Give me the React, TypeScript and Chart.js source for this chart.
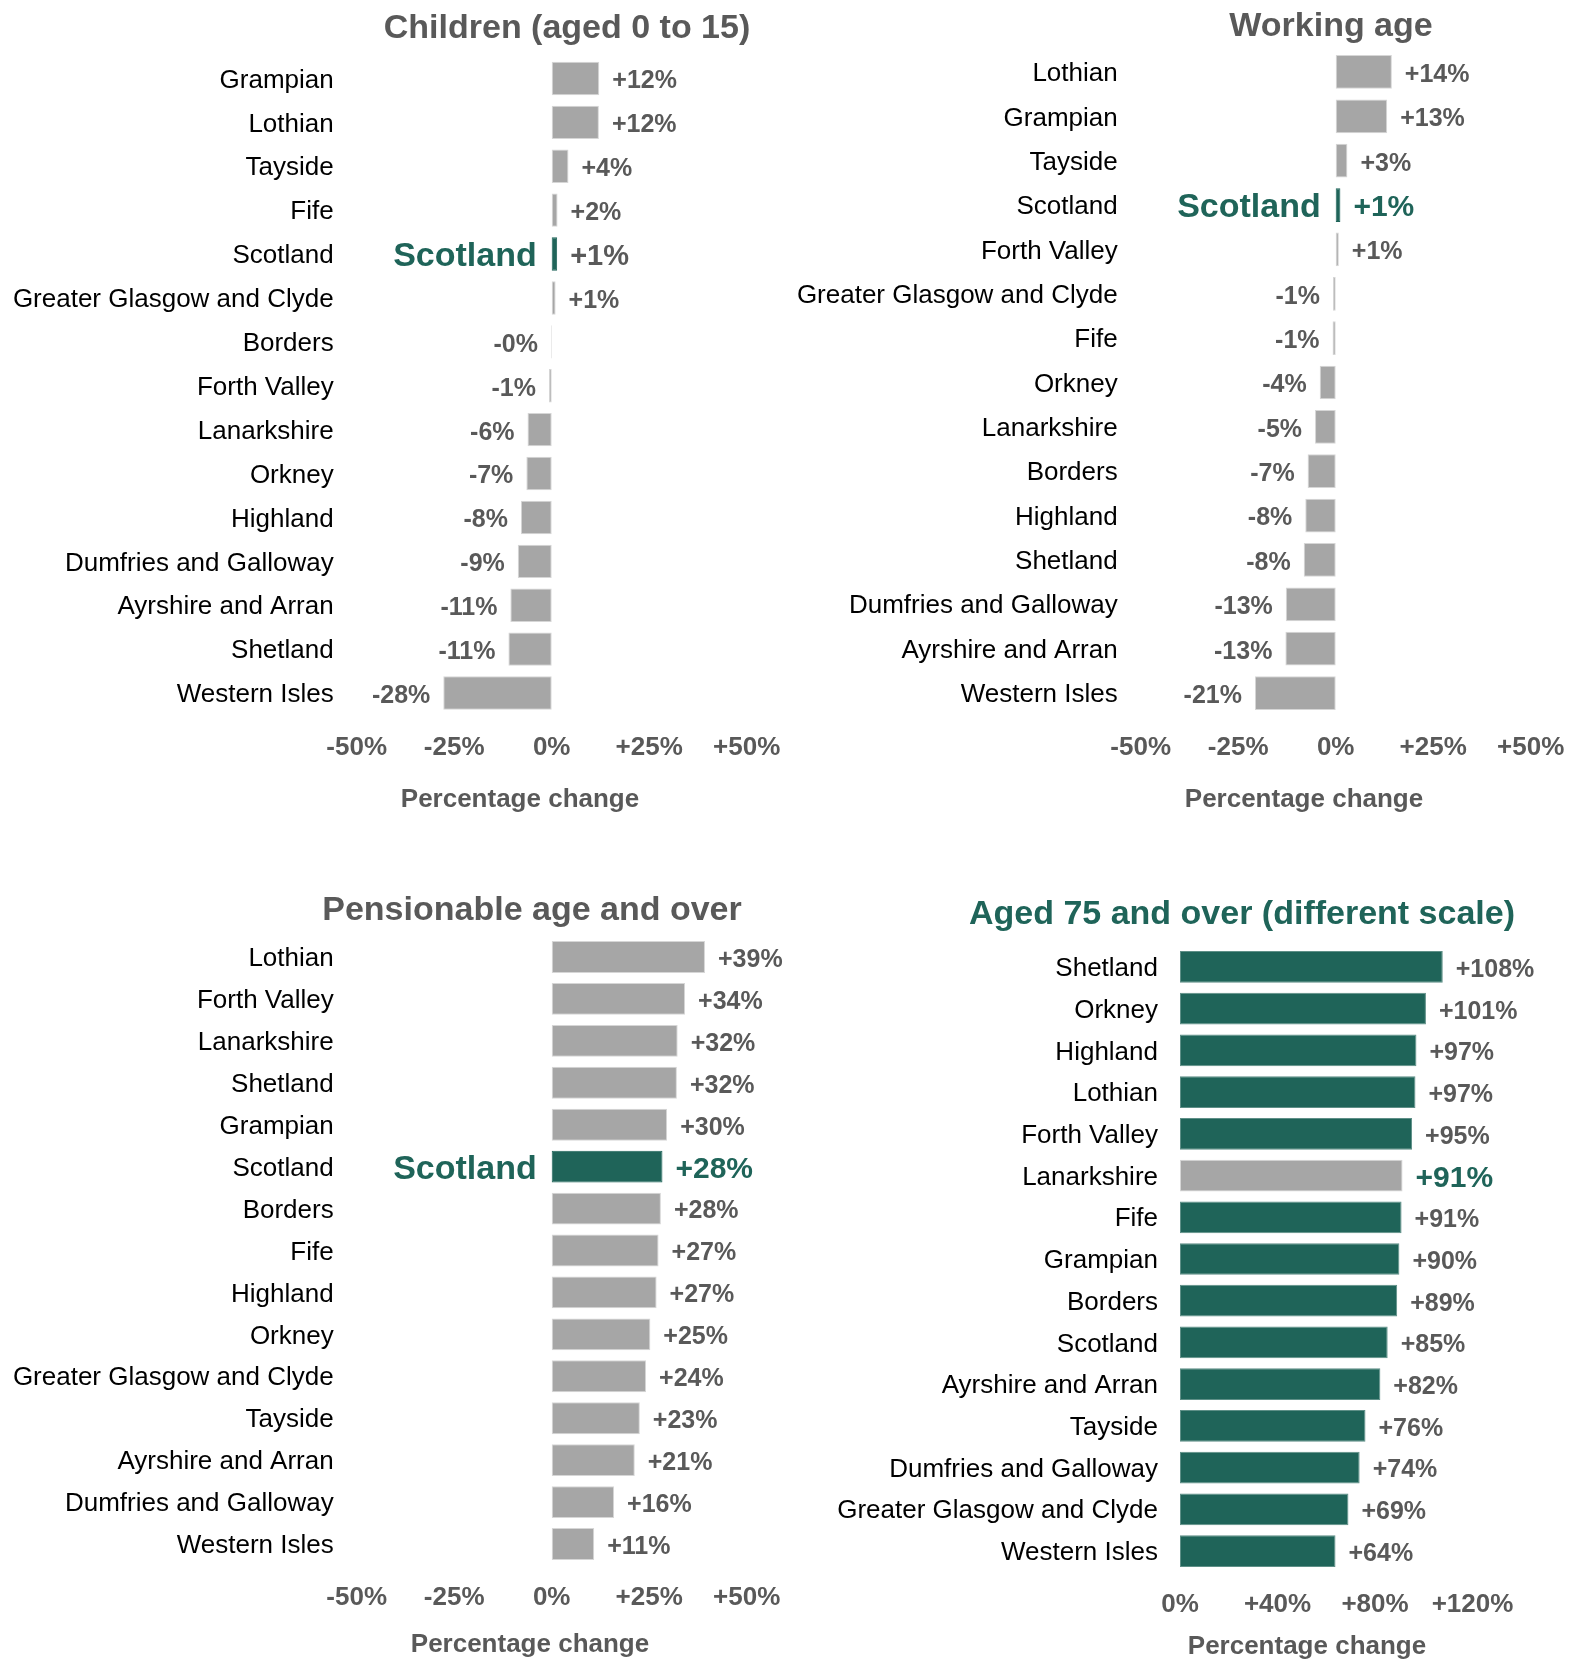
import React, { useEffect, useRef } from 'react';
import { Chart, registerables } from 'chart.js';

Chart.register(...registerables);

const FONT = '"Liberation Sans", Arial, Helvetica, sans-serif';
const GREY_BAR = '#A6A6A6';
const GREY_EDGE = '#D6D6D6';
const GREEN = '#1F6459';
const GREEN_EDGE = '#5E8F87';
const TEXT_GREY = '#595959';

// ---------- data ----------
const childrenAreas = [
  'Grampian', 'Lothian', 'Tayside', 'Fife', 'Scotland', 'Greater Glasgow and Clyde', 'Borders',
  'Forth Valley', 'Lanarkshire', 'Orkney', 'Highland', 'Dumfries and Galloway', 'Ayrshire and Arran',
  'Shetland', 'Western Isles',
];
const childrenValues = [12.2, 12.1, 4.3, 1.5, 1.4, 1.0, -0.2, -0.7, -6.2, -6.5, -7.9, -8.7, -10.6, -11.1, -27.8];

const workingAreas = [
  'Lothian', 'Grampian', 'Tayside', 'Scotland', 'Forth Valley', 'Greater Glasgow and Clyde', 'Fife',
  'Orkney', 'Lanarkshire', 'Borders', 'Highland', 'Shetland', 'Dumfries and Galloway',
  'Ayrshire and Arran', 'Western Isles',
];
const workingValues = [14.4, 13.2, 3.0, 1.2, 0.8, -0.7, -0.8, -4.1, -5.3, -7.2, -7.8, -8.2, -12.8, -12.9, -20.7];

const pensionAreas = [
  'Lothian', 'Forth Valley', 'Lanarkshire', 'Shetland', 'Grampian', 'Scotland', 'Borders', 'Fife',
  'Highland', 'Orkney', 'Greater Glasgow and Clyde', 'Tayside', 'Ayrshire and Arran',
  'Dumfries and Galloway', 'Western Isles',
];
const pensionValues = [39.3, 34.2, 32.3, 32.1, 29.6, 28.4, 28.0, 27.4, 26.9, 25.3, 24.2, 22.6, 21.3, 16.0, 10.9];

const over75Areas = [
  'Shetland', 'Orkney', 'Highland', 'Lothian', 'Forth Valley', 'Lanarkshire', 'Fife', 'Grampian',
  'Borders', 'Scotland', 'Ayrshire and Arran', 'Tayside', 'Dumfries and Galloway',
  'Greater Glasgow and Clyde', 'Western Isles',
];
const over75Values = [107.8, 100.9, 97.0, 96.6, 95.2, 91.3, 90.9, 90.0, 89.1, 85.2, 82.2, 76.1, 73.7, 69.1, 63.8];

const pctTickValues = [-50, -25, 0, 25, 50];
const pctTickLabels = ['-50%', '-25%', '0%', '+25%', '+50%'];
const over75TickValues = [0, 40, 80, 120];
const over75TickLabels = ['0%', '+40%', '+80%', '+120%'];

const panelTitles = ['Children (aged 0 to 15)', 'Working age', 'Pensionable age and over', 'Aged 75 and over (different scale)'];
const axisTitle = 'Percentage change';

// ---------- layout ----------
type Panel = {
  title: string;
  titleColor: string;
  areas: string[];
  values: number[];
  tickValues: number[];
  tickLabels: string[];
  box: { x: number; y: number; w: number; h: number };
  area: { l: number; r: number; t: number; b: number };
  titlePos: { x: number; y: number };
  axisTitlePos: { x: number; y: number };
  yPad: number;
  baseColor: string;
  baseEdge: string;
  hiIndex: number;
  hiColor: string;
  hiEdge: string;
  hiLabelColor: string;
  hiLabelSize: number;
  annotate: boolean;
};

const panels: Panel[] = [
  {
    title: panelTitles[0], titleColor: TEXT_GREY, areas: childrenAreas, values: childrenValues,
    tickValues: pctTickValues, tickLabels: pctTickLabels,
    box: { x: 0, y: 0, w: 784, h: 830 },
    area: { l: 356.7, r: 746.7, t: 56.5, b: 715 },
    titlePos: { x: 567, y: 29 }, axisTitlePos: { x: 520, y: 800 }, yPad: 23,
    baseColor: GREY_BAR, baseEdge: GREY_EDGE, hiIndex: 4, hiColor: GREEN, hiEdge: GREEN,
    hiLabelColor: TEXT_GREY, hiLabelSize: 29, annotate: true,
  },
  {
    title: panelTitles[1], titleColor: TEXT_GREY, areas: workingAreas, values: workingValues,
    tickValues: pctTickValues, tickLabels: pctTickLabels,
    box: { x: 784, y: 0, w: 785, h: 830 },
    area: { l: 1140.7, r: 1530.7, t: 49.8, b: 715.2 },
    titlePos: { x: 1331, y: 27 }, axisTitlePos: { x: 1304, y: 800 }, yPad: 23,
    baseColor: GREY_BAR, baseEdge: GREY_EDGE, hiIndex: 3, hiColor: GREEN, hiEdge: GREEN,
    hiLabelColor: GREEN, hiLabelSize: 30, annotate: true,
  },
  {
    title: panelTitles[2], titleColor: TEXT_GREY, areas: pensionAreas, values: pensionValues,
    tickValues: pctTickValues, tickLabels: pctTickLabels,
    box: { x: 0, y: 830, w: 784, h: 832 },
    area: { l: 356.7, r: 746.7, t: 936, b: 1565 },
    titlePos: { x: 532, y: 911 }, axisTitlePos: { x: 530, y: 1645 }, yPad: 23,
    baseColor: GREY_BAR, baseEdge: GREY_EDGE, hiIndex: 5, hiColor: GREEN, hiEdge: GREEN,
    hiLabelColor: GREEN, hiLabelSize: 30, annotate: true,
  },
  {
    title: panelTitles[3], titleColor: GREEN, areas: over75Areas, values: over75Values,
    tickValues: over75TickValues, tickLabels: over75TickLabels,
    box: { x: 784, y: 830, w: 785, h: 832 },
    area: { l: 1180, r: 1472.5, t: 946.1, b: 1571.9 },
    titlePos: { x: 1242, y: 915 }, axisTitlePos: { x: 1307, y: 1647 }, yPad: 22,
    baseColor: GREEN, baseEdge: GREEN_EDGE, hiIndex: 5, hiColor: GREY_BAR, hiEdge: GREY_EDGE,
    hiLabelColor: GREEN, hiLabelSize: 30, annotate: false,
  },
];

function fmt(v: number) {
  return (v < 0 ? '-' : '+') + Math.round(Math.abs(v)) + '%';
}

function PanelChart({ p }: { p: Panel }) {
  const ref = useRef<HTMLCanvasElement>(null);

  useEffect(() => {
    const canvas = ref.current;
    if (!canvas) return;
    const H_X = 60;
    const yWidth = p.area.l - p.box.x;
    const padding = {
      left: 0,
      top: p.area.t - p.box.y,
      right: p.box.x + p.box.w - p.area.r,
      bottom: p.box.y + p.box.h - p.area.b - H_X,
    };
    const ox = p.box.x;
    const oy = p.box.y;

    const labelPlugin = {
      id: 'panelText',
      afterDatasetsDraw(chart: any) {
        const ctx = chart.ctx as CanvasRenderingContext2D;
        const meta = chart.getDatasetMeta(0);
        ctx.save();
        ctx.textBaseline = 'middle';
        // title
        ctx.font = `bold 34px ${FONT}`;
        ctx.fillStyle = p.titleColor;
        ctx.textAlign = 'center';
        ctx.fillText(p.title, p.titlePos.x - ox, p.titlePos.y - oy);
        // axis title
        ctx.font = `bold 26px ${FONT}`;
        ctx.fillStyle = TEXT_GREY;
        ctx.fillText(axisTitle, p.axisTitlePos.x - ox, p.axisTitlePos.y - oy);
        // value labels
        const zero = chart.scales.x.getPixelForValue(0);
        meta.data.forEach((bar: any, i: number) => {
          const v = p.values[i];
          const hi = i === p.hiIndex;
          ctx.font = `bold ${hi ? p.hiLabelSize : 25}px ${FONT}`;
          ctx.fillStyle = hi ? p.hiLabelColor : TEXT_GREY;
          if (v >= 0) {
            ctx.textAlign = 'left';
            ctx.fillText(fmt(v), bar.x + 13, bar.y + 3);
          } else {
            ctx.textAlign = 'right';
            ctx.fillText(fmt(v), bar.x - 13, bar.y + 3);
          }
          if (hi && p.annotate) {
            ctx.font = `bold 34px ${FONT}`;
            ctx.fillStyle = GREEN;
            ctx.textAlign = 'right';
            ctx.fillText(p.areas[i], zero - 15, bar.y + 3);
          }
        });
        ctx.restore();
      },
    };

    const chart = new Chart(canvas, {
      type: 'bar',
      data: {
        labels: p.areas,
        datasets: [
          {
            data: p.values,
            backgroundColor: p.values.map((_, i) => (i === p.hiIndex ? p.hiColor : p.baseColor)),
            borderColor: p.values.map((_, i) => (i === p.hiIndex ? p.hiEdge : p.baseEdge)),
            borderWidth: 1,
            borderSkipped: false,
            barPercentage: 0.76,
            categoryPercentage: 1,
          },
        ],
      },
      options: {
        indexAxis: 'y',
        animation: false,
        responsive: false,
        devicePixelRatio: 1,
        layout: { padding, autoPadding: false },
        plugins: {
          legend: { display: false },
          title: { display: false },
          tooltip: { enabled: false },
        },
        scales: {
          x: {
            type: 'linear',
            min: p.tickValues[0],
            max: p.tickValues[p.tickValues.length - 1],
            afterBuildTicks(scale: any) {
              scale.ticks = p.tickValues.map((v) => ({ value: v }));
            },
            afterFit(scale: any) {
              scale.height = H_X;
              scale.paddingLeft = 0;
              scale.paddingRight = 0;
            },
            grid: { display: false, drawTicks: false },
            border: { display: false },
            ticks: {
              padding: 17,
              maxRotation: 0,
              autoSkip: false,
              color: TEXT_GREY,
              font: { family: FONT, size: 26, weight: 'bold' },
              callback: (value: any) => {
                const idx = p.tickValues.indexOf(Number(value));
                return idx >= 0 ? p.tickLabels[idx] : '';
              },
            },
          },
          y: {
            type: 'category',
            afterFit(scale: any) {
              scale.width = yWidth;
            },
            grid: { display: false, drawTicks: false },
            border: { display: false },
            ticks: {
              padding: p.yPad,
              labelOffset: 2,
              autoSkip: false,
              color: '#000000',
              font: { family: FONT, size: 26 },
            },
          },
        },
      } as any,
      plugins: [labelPlugin],
    });

    return () => chart.destroy();
  }, [p]);

  return (
    <canvas
      ref={ref}
      width={p.box.w}
      height={p.box.h}
      style={{ position: 'absolute', left: p.box.x, top: p.box.y, width: p.box.w, height: p.box.h }}
    />
  );
}

export default function App() {
  return (
    <div style={{ position: 'absolute', left: 0, top: 0, width: 1569, height: 1662, background: '#ffffff' }}>
      {panels.map((p, i) => (
        <PanelChart key={i} p={p} />
      ))}
    </div>
  );
}
